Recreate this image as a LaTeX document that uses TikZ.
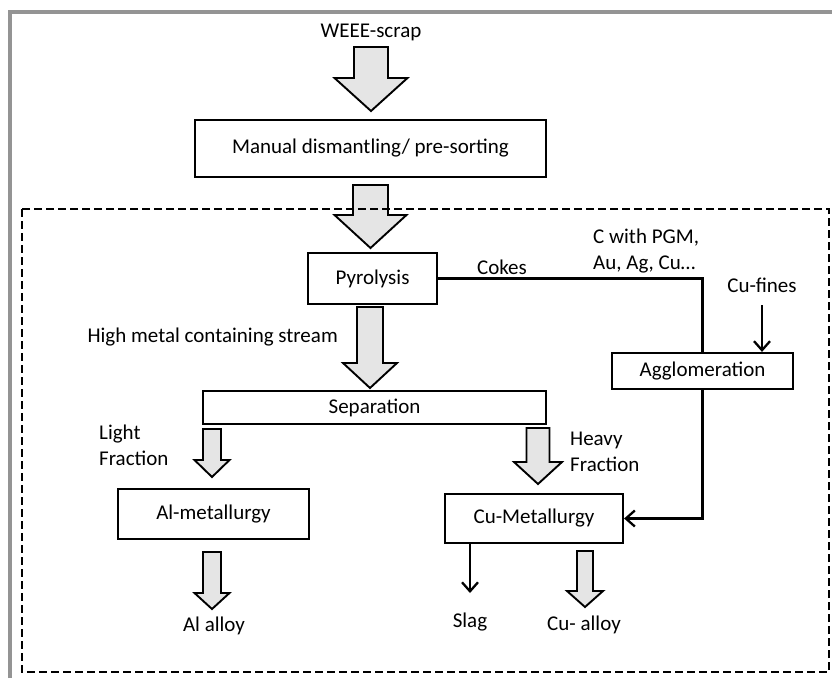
\documentclass[tikz,border=0pt]{standalone}
\usepackage{fontspec}
\setmainfont{Carlito}
\usetikzlibrary{arrows.meta}
\newcommand\blkarrow[6]{%
  \draw[blockarrow] (#1-#5,#2) -- (#1+#5,#2) -- (#1+#5,#3) -- (#1+#6,#3)
    -- (#1,#4) -- (#1-#6,#3) -- (#1-#5,#3) -- cycle;}
\begin{document}
\begin{tikzpicture}[x=1pt,y=-1pt,
  every node/.style={font=\fontsize{21}{26}\selectfont, inner sep=0pt},
  procbox/.style={draw, line width=2.2pt},
  blockarrow/.style={draw, line width=1.9pt, fill=black!10, line join=miter},
  conn/.style={line width=2.3pt},
  connarrow/.style={conn, -{Straight Barb[length=9pt,width=16pt,line width=2.3pt]}},
  frame/.style={draw=black!42, line width=4pt},
  zone/.style={draw, line width=2.4pt, dash pattern=on 8pt off 4pt}]
\useasboundingbox (0,0) rectangle (832,678);
% outer grey frame
\draw[frame] (10,678) -- (10,12) -- (832,12);
% process boxes
\node[procbox, minimum width=351pt, minimum height=57pt] (manual) at (370.5,148.5) {Manual dismantling/ pre-sorting};
\node[procbox, minimum width=129pt, minimum height=51pt] (pyro) at (372.5,278.5) {Pyrolysis};
\node[procbox, minimum width=343pt, minimum height=33pt] (sep) at (374.5,407.5) {Separation};
\node[procbox, minimum width=191pt, minimum height=50pt] (almet) at (213.5,514) {Al-metallurgy};
\node[procbox, minimum width=178pt, minimum height=49pt] (cumet) at (534,518.5) {Cu-Metallurgy};
\node[procbox, minimum width=181pt, minimum height=36pt] (aggl) at (702.5,371) {Agglomeration};
% labels
\node (weee) at (371,32) {WEEE-scrap};
\node[anchor=east] (hmcs) at (338,337) {High metal containing stream};
\node[anchor=west, align=left] (light) at (99,445) {Light\\Fraction};
\node[anchor=west, align=left] (heavy) at (570,452) {Heavy\\Fraction};
\node (cokes) at (502,267) {Cokes};
\node[anchor=west, align=left] (cpgm) at (593,251) {C with PGM,\\Au, Ag, Cu…};
\node (cufines) at (762,285) {Cu-fines};
\node (slag) at (470,622) {Slag};
\node (cualloy) at (584,625) {Cu- alloy};
\node (alalloy) at (214,626) {Al alloy};
% block arrows
\blkarrow{371}{47}{78}{111}{17}{36.5}
\blkarrow{370.5}{185}{215}{248}{17.5}{36}
\blkarrow{370}{307}{363}{388}{13}{27}
\blkarrow{212}{429}{460}{477}{9}{17.5}
\blkarrow{538}{428}{462}{484}{11.5}{24}
\blkarrow{212}{552}{593}{609}{9}{17.5}
\blkarrow{585}{551}{591}{607}{8}{18}
% connectors
\coordinate (cfstart) at (762,305);
\coordinate (slagend) at (470,593);
\draw[conn] (pyro.east) -| (aggl.north);
\draw[connarrow] (cfstart) -- (cfstart |- aggl.north);
\draw[connarrow] (aggl.south) |- (cumet.east);
\draw[connarrow] (cumet.south -| slagend) -- (slagend);
% dashed zone
\draw[zone] (22,209) rectangle (829,672);
\end{tikzpicture}
\end{document}
